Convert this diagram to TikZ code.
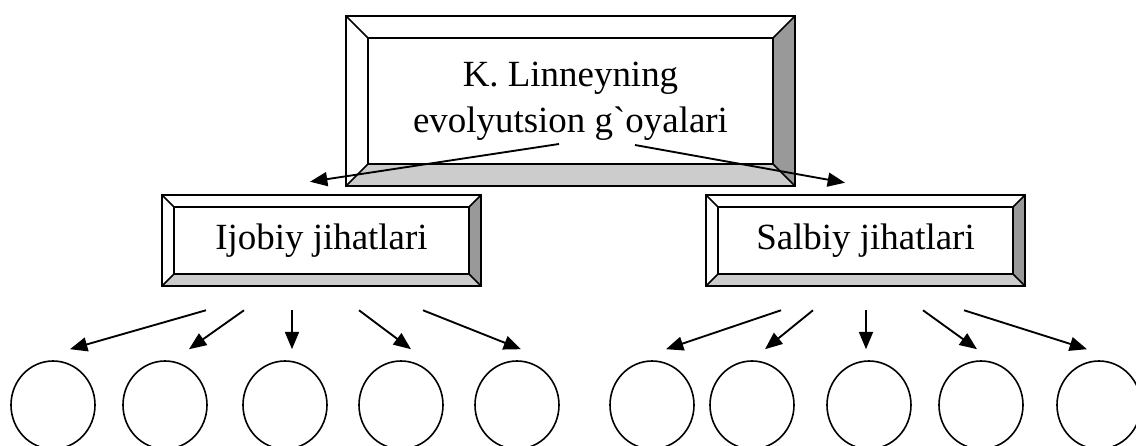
\documentclass[tikz,border=0pt]{standalone}
\usepackage{fontspec}
\setmainfont{Liberation Serif}[Ligatures=TeXOff]
\usepackage{xcolor}
\usetikzlibrary{arrows.meta,calc,shapes.geometric}

\definecolor{bevdark}{RGB}{153,153,153}
\definecolor{bevlight}{RGB}{204,204,204}

\tikzset{
  panel/.style={inner sep=0pt, align=center, font=\fontsize{27.7}{34.5}\selectfont},
  blob/.style={draw, ellipse, line width=1.2pt, minimum width=63pt, minimum height=66pt, inner sep=0pt},
  arr/.style={-{Triangle[length=13pt,width=10.5pt]}, line width=1.4pt},
}

% bevelled frame round node #1, bevel #2
\newcommand{\bevelframe}[2]{
  \coordinate (#1-onw) at ($(#1.north west)+(-#2,-#2)$);
  \coordinate (#1-one) at ($(#1.north east)+(#2,-#2)$);
  \coordinate (#1-ose) at ($(#1.south east)+(#2,#2)$);
  \coordinate (#1-osw) at ($(#1.south west)+(-#2,#2)$);
  \fill[bevdark] (#1-one) -- (#1-ose) -- (#1.south east) -- (#1.north east) -- cycle;
  \fill[bevlight] (#1-osw) -- (#1-ose) -- (#1.south east) -- (#1.south west) -- cycle;
  \draw[line width=1.4pt] (#1-onw) rectangle (#1-ose);
  \draw[line width=1.2pt] (#1.north west) rectangle (#1.south east);
  \draw[line width=1.1pt] (#1-onw) -- (#1.north west) (#1-one) -- (#1.north east)
    (#1-ose) -- (#1.south east) (#1-osw) -- (#1.south west);
}

\begin{document}
\begin{tikzpicture}[x=0.75pt, y=-0.75pt]
  \useasboundingbox (0,0) rectangle (1136,446);

  \node[panel, minimum width=303.75pt, minimum height=94.5pt] (idea) at (570.5,101)
    {K. Linneyning\\evolyutsion g`oyalari};
  \node[panel, minimum width=220.5pt, minimum height=49.5pt] (ijobiy) at (321.5,240.5) {Ijobiy jihatlari};
  \node[panel, minimum width=220.5pt, minimum height=49.5pt] (salbiy) at (865.5,240.5) {Salbiy jihatlari};

  \bevelframe{idea}{21.5}
  \bevelframe{ijobiy}{12.5}
  \bevelframe{salbiy}{12}

  \draw[arr] ($(idea.center)+(-11.5,43)$) -- ($(ijobiy.north)+(-11.5,-25.5)$);
  \draw[arr] ($(idea.center)+(64.5,44)$) -- ($(salbiy.north)+(-20.5,-24.5)$);

  % ellipses under each box
  \foreach \x [count=\i] in {53,165,285,401,517}
    \node[blob] (ij\i) at (\x,405) {};
  \foreach \x [count=\i] in {652,752,869,981,1099}
    \node[blob] (sb\i) at (\x,405) {};

  \foreach \dx/\ex [count=\i] in {-115.5/17,-77.5/24,-29.5/7,37.5/10,101.5/4}
    \draw[arr] ($(ijobiy.south)+(\dx,36.5)$) -- ($(ij\i.north)+(\ex,-11)$);
  \foreach \dx/\ex [count=\i] in {-84.5/14,-52.5/13,0.5/-3,57.5/-4,98.5/-12}
    \draw[arr] ($(salbiy.south)+(\dx,36.5)$) -- ($(sb\i.north)+(\ex,-11)$);
\end{tikzpicture}
\end{document}
